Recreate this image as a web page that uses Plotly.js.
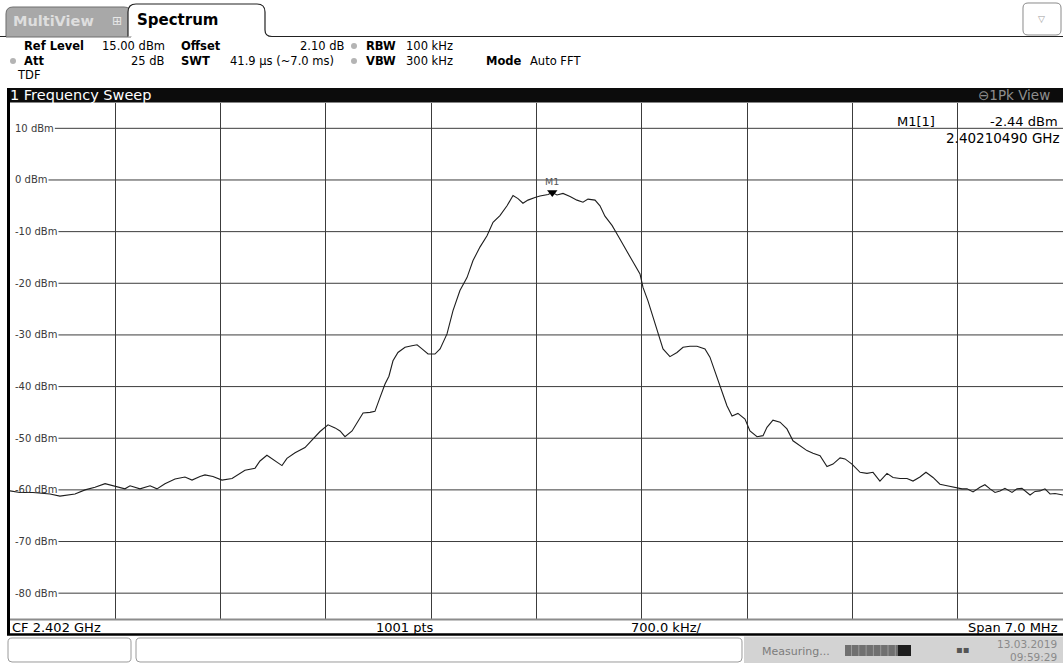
<!DOCTYPE html>
<html><head><meta charset="utf-8">
<script src="https://cdn.plot.ly/plotly-3.0.1.min.js"></script>
<style>html,body{margin:0;padding:0;background:#fff;overflow:hidden}#chart{width:1063px;height:663px}</style>
</head><body><div id="chart"></div>
<script>
// ---- data ----
const freqOffsetMHz = [-3.500,-3.434,-3.347,-3.234,-3.168,-3.068,-3.001,-2.935,-2.868,-2.802,
-2.736,-2.702,-2.636,-2.569,-2.523,-2.470,-2.403,-2.337,-2.290,-2.237,
-2.204,-2.151,-2.091,-2.024,-1.984,-1.938,-1.871,-1.838,-1.792,-1.738,
-1.692,-1.659,-1.605,-1.539,-1.486,-1.439,-1.386,-1.339,-1.306,-1.273,
-1.226,-1.187,-1.153,-1.107,-1.074,-1.040,-1.007,-0.981,-0.954,-0.921,
-0.874,-0.828,-0.794,-0.761,-0.721,-0.675,-0.641,-0.595,-0.555,-0.509,
-0.462,-0.422,-0.376,-0.329,-0.289,-0.243,-0.196,-0.156,-0.123,-0.090,
-0.057,-0.010,0.023,0.077,0.105,0.136,0.176,0.223,0.269,0.309,
0.342,0.389,0.422,0.455,0.502,0.542,0.602,0.642,0.688,0.708,
0.741,0.774,0.808,0.841,0.887,0.934,0.974,1.020,1.067,1.120,
1.153,1.200,1.233,1.266,1.300,1.339,1.386,1.419,1.466,1.506,
1.532,1.572,1.619,1.665,1.705,1.752,1.798,1.838,1.885,1.931,
1.971,2.018,2.051,2.097,2.151,2.197,2.237,2.283,2.330,2.370,
2.416,2.463,2.503,2.549,2.589,2.636,2.682,2.729,2.782,2.829,
2.862,2.902,2.948,2.981,3.015,3.048,3.081,3.114,3.161,3.194,
3.227,3.281,3.314,3.347,3.380,3.414,3.447,3.500];
const levelDbm = [-60.2,-60.5,-60.5,-60.8,-61.2,-60.8,-60.0,-59.5,-58.8,-59.3,
-59.8,-59.2,-59.8,-59.2,-59.8,-58.8,-57.9,-57.5,-58.1,-57.4,
-57.1,-57.4,-58.1,-57.8,-57.0,-56.2,-55.8,-54.4,-53.3,-54.4,
-55.3,-53.9,-52.8,-51.8,-50.2,-48.7,-47.4,-48.0,-48.6,-49.7,
-48.6,-46.6,-45.1,-45.0,-44.8,-42.1,-39.5,-38.0,-35.0,-33.4,
-32.4,-32.1,-31.9,-32.7,-33.7,-33.7,-32.7,-29.8,-25.3,-21.4,
-18.9,-15.6,-13.0,-10.8,-8.2,-6.9,-5.0,-3.0,-3.6,-4.5,
-3.9,-3.4,-3.1,-2.8,-2.44,-2.9,-2.6,-3.2,-3.9,-4.3,
-3.7,-3.9,-5.0,-7.0,-8.8,-10.8,-13.7,-15.9,-18.2,-20.8,
-23.4,-26.6,-29.8,-32.7,-34.2,-33.4,-32.4,-32.2,-32.2,-32.7,
-34.3,-38.2,-40.8,-43.7,-45.7,-45.2,-46.3,-48.6,-49.7,-49.5,
-47.9,-46.5,-46.9,-48.2,-50.5,-51.5,-52.4,-52.9,-53.4,-55.5,
-55.0,-53.8,-54.0,-55.0,-56.6,-56.8,-56.6,-58.3,-56.8,-57.6,
-57.8,-57.8,-58.3,-57.5,-56.6,-57.6,-58.9,-59.2,-59.5,-59.8,
-59.8,-60.4,-59.5,-59.0,-59.8,-60.5,-60.2,-59.7,-60.5,-59.8,
-59.7,-61.0,-60.3,-60.2,-59.8,-60.8,-60.7,-61.0];
const yTickValues = [10,0,-10,-20,-30,-40,-50,-60,-70,-80];
const yTickLabels = ['10 dBm','0 dBm','-10 dBm','-20 dBm','-30 dBm','-40 dBm','-50 dBm','-60 dBm','-70 dBm','-80 dBm'];
const markerName = ['M1'];
const markerFreqOffsetMHz = [0.1049];
const markerLevelDbm = [-2.44];
const markerReadout = ['M1[1]','-2.44 dBm','2.40210490 GHz'];
const footerLabels = ['CF 2.402 GHz','1001 pts','700.0 kHz/','Span 7.0 MHz'];
const refLevelDbm = 15, spanDivs = 10;

// ---- layout helpers (pixel -> paper) ----
const W = 1063, H = 663;
const px = x => x / W, py = y => 1 - y / H;
const FONT = 'DejaVu Sans, Verdana, sans-serif';
const shapes = [], annotations = [];
function rect(x0, y0, x1, y1, fill, line, lw, layer) {
  shapes.push({type:'rect', xref:'paper', yref:'paper', x0:px(x0), x1:px(x1), y0:py(y1), y1:py(y0),
    fillcolor: fill || 'rgba(0,0,0,0)', line:{color: line || 'rgba(0,0,0,0)', width: lw || 0}, layer: layer || 'above'});
}
function hline(x0, x1, y, color, w) {
  shapes.push({type:'line', xref:'paper', yref:'paper', x0:px(x0), x1:px(x1), y0:py(y), y1:py(y), line:{color, width:w}, layer:'above'});
}
function pathShape(d, fill, line, lw) {
  shapes.push({type:'path', xref:'paper', yref:'paper', path:d, fillcolor: fill || 'rgba(0,0,0,0)', line:{color: line || 'rgba(0,0,0,0)', width: lw || 0}, layer:'above'});
}
function P(x, y) { return px(x).toFixed(5) + ',' + py(y).toFixed(5); }
function rrect(x0, y0, x1, y1, r) {
  return `M${P(x0+r,y0)} L${P(x1-r,y0)} Q${P(x1,y0)} ${P(x1,y0+r)} L${P(x1,y1-r)} Q${P(x1,y1)} ${P(x1-r,y1)} L${P(x0+r,y1)} Q${P(x0,y1)} ${P(x0,y1-r)} L${P(x0,y0+r)} Q${P(x0,y0)} ${P(x0+r,y0)} Z`;
}
function text(t, x, y, o) {
  o = o || {};
  annotations.push({text:t, xref:'paper', yref:'paper', x:px(x), y:py(y), xanchor:o.anchor || 'left', yanchor:'middle',
    showarrow:false, borderpad:0, borderwidth:0,
    font:{family:o.family || FONT, size:o.size || 12, color:o.color || '#000', weight:o.bold ? 'bold' : 'normal'}});
}

// ---- top tabs ----
pathShape(`M${P(6,37)} L${P(6,14)} Q${P(6,7)} ${P(13,7)} L${P(124,7)} Q${P(131,7)} ${P(131,14)} L${P(131,37)} Z`, '#a8a8a8', '#6e6e6e', 1);
pathShape(`M${P(0,36.5)} L${P(6,36.5)}`, null, '#222', 1);
pathShape(`M${P(128,36.5)} L${P(128,12)} Q${P(128,4)} ${P(136,4)} L${P(257,4)} Q${P(265,4)} ${P(265,12)} L${P(265,30)} Q${P(265,36.5)} ${P(272,36.5)} L${P(1063,36.5)}`, '#fff', '#222', 1.2);
pathShape(rrect(1023, 3, 1061, 35, 5), '#fff', '#8a8a8a', 1);
text('▽', 1041, 19, {anchor:'center', size:9, color:'#9a9a9a'});
text('MultiView', 13, 21, {bold:true, size:14.5, color:'#dedede'});
text('⊞', 117, 21, {anchor:'center', size:12, color:'#e8e8e8'});
text('Spectrum', 137, 20, {bold:true, size:15});

// ---- header rows ----
const HS = 11.5;
text('Ref Level', 24, 46, {bold:true, size:HS});
text('15.00 dBm', 165, 46, {anchor:'right', size:HS});
text('Offset', 181, 46, {bold:true, size:HS});
text('2.10 dB', 345, 46, {anchor:'right', size:HS});
text('RBW', 366, 46, {bold:true, size:HS});
text('100 kHz', 406, 46, {size:HS});
text('Att', 24, 61, {bold:true, size:HS});
text('25 dB', 165, 61, {anchor:'right', size:HS});
text('SWT', 181, 61, {bold:true, size:HS});
text('41.9 µs (~7.0 ms)', 230, 61, {size:HS});
text('VBW', 366, 61, {bold:true, size:HS});
text('300 kHz', 406, 61, {size:HS});
text('Mode', 486, 61, {bold:true, size:HS});
text('Auto FFT', 530, 61, {size:HS});
text('TDF', 17, 75, {size:HS});
[[13,61],[354,46],[354,61]].forEach(([x,y]) => {
  shapes.push({type:'circle', xref:'paper', yref:'paper', x0:px(x-3), x1:px(x+3), y0:py(y+3), y1:py(y-3), fillcolor:'#b4b4b4', line:{width:0}, layer:'above'});
});

// ---- sweep title bar + frame ----
rect(7, 88, 1063, 102.5, '#0c0c0c');
text('1 Frequency Sweep', 10, 95, {size:14.5, color:'#fff'});
text('⊖1Pk View', 1050, 95, {anchor:'right', size:13.5, color:'#8e8e8e'});
rect(7, 88, 10, 635, '#000');
hline(10, 1063, 619.5, '#8c8c8c', 2);
hline(7, 1063, 634.5, '#000', 2.5);

// ---- footer labels ----
text(footerLabels[0], 12, 627, {size:13});
text(footerLabels[1], 405, 627, {anchor:'center', size:13});
text(footerLabels[2], 666, 627, {anchor:'center', size:13});
text(footerLabels[3], 1058, 627, {anchor:'right', size:13});

// ---- status bar ----
rect(744, 636.5, 1063, 663, '#d3d3d3');
pathShape(rrect(8, 638, 131, 662, 4), '#fff', '#9a9a9a', 1);
pathShape(rrect(136, 638, 742, 662, 4), '#fff', '#9a9a9a', 1);
text('Measuring...', 762, 651, {size:11, color:'#7c7c7c'});
rect(845, 645, 898, 656, '#707070');
for (let i = 0; i < 7; i++) rect(851 + i*7.3, 645, 852 + i*7.3, 656, '#9a9a9a');
rect(898, 645, 911, 656, '#1e1e1e');
text('▪▪', 963, 649, {anchor:'center', size:10, color:'#555'});
text('13.03.2019', 1057, 644, {anchor:'right', size:10.5, color:'#8a8a8a'});
text('09:59:29', 1057, 657, {anchor:'right', size:10.5, color:'#8a8a8a'});

// ---- y labels + horizontal grid starting after the label ----
const ctx = document.createElement('canvas').getContext('2d');
ctx.font = '10px "DejaVu Sans"';
yTickValues.forEach((v, i) => {
  const w = ctx.measureText(yTickLabels[i]).width;
  annotations.push({text:yTickLabels[i], xref:'paper', yref:'y', x:px(15), y:v, xanchor:'left', yanchor:'middle',
    showarrow:false, borderpad:0, borderwidth:0, font:{family:FONT, size:10, color:'#3a3a3a'}});
  shapes.push({type:'line', xref:'paper', yref:'y', x0:px(15 + w + 1), x1:1, y0:v, y1:v,
    line:{color:'#3c3c3c', width:1}, layer:'below'});
});

// ---- marker readout ----
text(markerReadout[0], 897, 121, {size:13});
text(markerReadout[1], 1058, 121, {anchor:'right', size:13});
text(markerReadout[2], 1060, 138, {anchor:'right', size:13.5});
annotations.push({text:markerName[0], xref:'x', yref:'y', x:markerFreqOffsetMHz[0], y:markerLevelDbm[0], xanchor:'center', yanchor:'bottom',
  yshift:6, showarrow:false, borderpad:0, borderwidth:0, font:{family:FONT, size:9.5, color:'#555'}});

const traces = [
  {x:freqOffsetMHz, y:levelDbm, type:'scatter', mode:'lines', line:{color:'#1e1e1e', width:1.1}, hoverinfo:'skip'},
  {x:markerFreqOffsetMHz, y:markerLevelDbm, type:'scatter', mode:'markers',
   marker:{symbol:'triangle-down', size:9, color:'#000'}, hoverinfo:'skip'}
];

const layout = {
  width: W, height: H, margin:{l:0, r:0, t:0, b:0},
  paper_bgcolor:'#fff', plot_bgcolor:'#fff', showlegend:false,
  xaxis:{domain:[px(10), 1], range:[-3.5, 3.5], showgrid:true, gridcolor:'#3c3c3c', gridwidth:1,
    tick0:0, dtick:0.7, showticklabels:false, ticks:'', zeroline:false, showline:false, fixedrange:true},
  yaxis:{domain:[py(619), py(102.5)], range:[refLevelDbm - spanDivs*10, refLevelDbm], showgrid:false,
    showticklabels:false, ticks:'', zeroline:false, showline:false, fixedrange:true},
  shapes, annotations
};
Plotly.newPlot('chart', traces, layout, {staticPlot:true, displayModeBar:false});
</script>
</body></html>
